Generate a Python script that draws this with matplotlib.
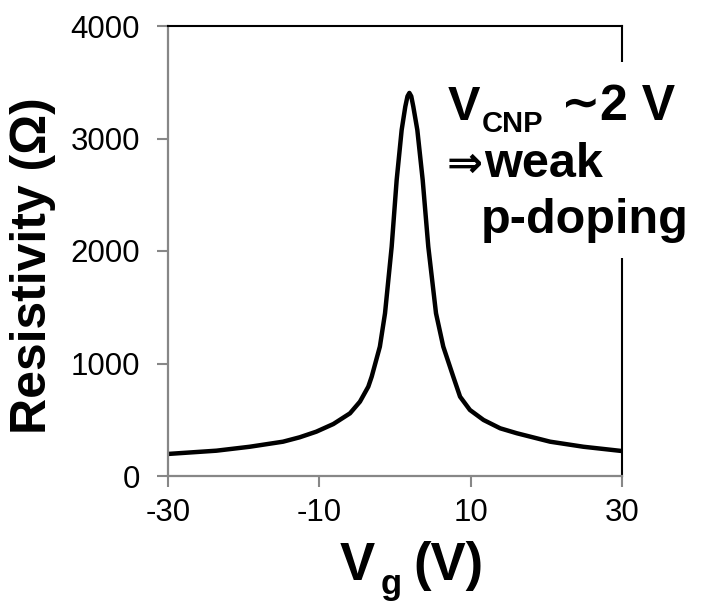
import matplotlib
matplotlib.use('Agg')
import matplotlib.pyplot as plt
from matplotlib.patches import Rectangle

plt.rcParams['font.family'] = ['Liberation Sans', 'DejaVu Sans']

# gate voltage (V) and resistivity (Ohm)
vg = [-30, -23.6, -19.2, -14.8, -12.6, -10.4, -8.15, -5.95, -4.63, -3.53,
      -3.08, -2.0, -1.32, -0.44, 0.22, 0.88, 1.36, 1.65, 1.9, 2.15, 2.42,
      2.95, 3.66, 4.4, 5.42, 6.38, 7.7, 8.6, 9.9, 11.7, 13.9, 16.1, 20.5,
      24.9, 30]
rho = [196, 225, 260, 305, 344, 394, 462, 557, 661, 794,
       883, 1150, 1446, 2038, 2631, 3076, 3283, 3375, 3405, 3375, 3283,
       3076, 2631, 2038, 1446, 1150, 883, 705, 587, 498, 424, 380, 305,
       260, 222]

xticks = [-30, -10, 10, 30]
yticks = [0, 1000, 2000, 3000, 4000]

W, H = 705, 602
fig = plt.figure(figsize=(W / 100, H / 100), dpi=100)
ax = fig.add_axes([168 / W, 1 - 476 / H, (622 - 168) / W, (476 - 26) / H])

ax.plot(vg, rho, color='black', lw=3.2, solid_capstyle='butt', solid_joinstyle='round')
ax.set_xlim(-30, 30)
ax.set_ylim(0, 4000)
ax.set_xticks(xticks)
ax.set_yticks(yticks)
ax.set_xticklabels([str(t) for t in xticks])
ax.set_yticklabels([str(t) for t in yticks])

grey = '#878787'
for s in ['left', 'bottom']:
    ax.spines[s].set_color(grey)
    ax.spines[s].set_linewidth(1.6)
for s in ['top', 'right']:
    ax.spines[s].set_color('black')
    ax.spines[s].set_linewidth(1.5)
ax.tick_params(axis='both', direction='out', length=8, width=1.5, color=grey,
               labelsize=22.5, labelcolor='black')
ax.tick_params(axis='y', pad=12)
ax.tick_params(axis='x', pad=8)

def px(x, y):
    return x / W, 1 - y / H

# white box hiding the right frame behind the annotation
fig.patches.append(Rectangle(px(440, 258), (W - 440) / W, (258 - 62) / H,
                             transform=fig.transFigure, facecolor='white',
                             edgecolor='none', zorder=5))

kw = dict(fontweight='bold', color='black', zorder=6, va='baseline')
fig.text(*px(448, 120), 'V', fontsize=35, **kw)
fig.text(*px(482, 132), 'CNP', fontsize=21, **kw)
fig.text(*px(561, 106), '\u223c', fontsize=34, fontweight='bold', color='black',
         zorder=6, va='center')
fig.text(*px(600, 120), '2 V', fontsize=36, **kw)
fig.text(*px(447, 177), '\u21d2', fontsize=31, **kw)
fig.text(*px(484, 177), 'weak', fontsize=35, **kw)
fig.text(*px(481, 233), 'p-doping', fontsize=35, **kw)

# axis labels
fig.text(*px(33, 266), 'Resistivity (\u03a9)', fontsize=36, fontweight='bold',
         rotation=90, ha='center', va='center')
fig.text(*px(340, 580), 'V', fontsize=38, fontweight='bold', va='baseline')
fig.text(*px(381, 594), 'g', fontsize=25, fontweight='bold', va='baseline')
fig.text(*px(413, 580), '(V)', fontsize=38, fontweight='bold', va='baseline')

fig.savefig('out.png', dpi=100)
